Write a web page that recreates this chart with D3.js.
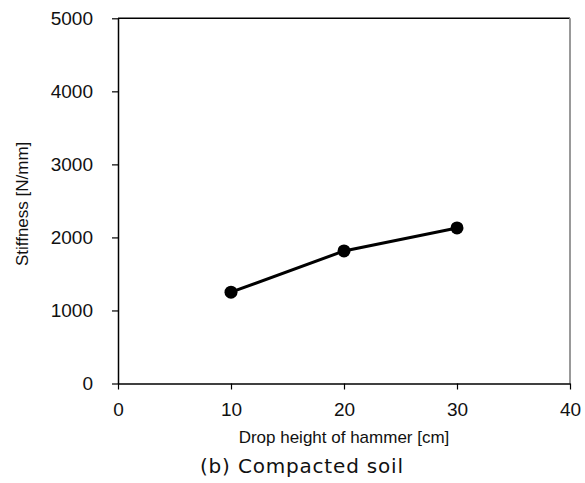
<!DOCTYPE html>
<html><head><meta charset="utf-8">
<script src="https://cdn.jsdelivr.net/npm/d3@7"></script>
<style>
html,body{margin:0;padding:0;background:#fff;}
svg{display:block;}
</style></head>
<body>
<svg id="chart" width="585" height="483"></svg>
<script>
const dropHeights = [10, 20, 30];
const stiffness = [1250, 1815, 2130];
const xTicks = [0, 10, 20, 30, 40];
const yTicks = [0, 1000, 2000, 3000, 4000, 5000];
const xTitle = "Drop height of hammer [cm]";
const yTitle = "Stiffness [N/mm]";
const caption = "(b)  Compacted  soil";

const svg = d3.select("#chart");
const m = {left:118, right:570, top:18.3, bottom:383.5};
const x = d3.scaleLinear().domain([0,40]).range([m.left, m.right]);
const y = d3.scaleLinear().domain([0,5000]).range([m.bottom, m.top]);

// frame top and right
svg.append("line").attr("x1", m.left).attr("x2", m.right).attr("y1", m.top).attr("y2", m.top)
  .attr("stroke","#000").attr("stroke-width",1.5);
svg.append("line").attr("x1", m.right).attr("x2", m.right).attr("y1", m.top).attr("y2", m.bottom)
  .attr("stroke","#999").attr("stroke-width",2);

const font = "'Liberation Sans', Arial, sans-serif";

const gx = svg.append("g").attr("transform",`translate(0,${m.bottom})`)
  .call(d3.axisBottom(x).tickValues(xTicks).tickFormat(d3.format("d")).tickSize(6).tickSizeOuter(0).tickPadding(13));
const gy = svg.append("g").attr("transform",`translate(${m.left},0)`)
  .call(d3.axisLeft(y).tickValues(yTicks).tickFormat(d3.format("d")).tickSize(6).tickSizeOuter(0).tickPadding(19));
[gx, gy].forEach(g => {
  g.selectAll("path.domain").attr("stroke","#000").attr("stroke-width",1.5);
  g.selectAll(".tick line").attr("stroke","#000").attr("stroke-width",1.2);
  g.selectAll("text").attr("font-family", font).attr("font-size", 19).attr("fill","#111");
});

const line = d3.line().x((d,i)=>x(dropHeights[i])).y(d=>y(d));
svg.append("path").datum(stiffness).attr("d", line)
  .attr("fill","none").attr("stroke","#000").attr("stroke-width",3);
svg.selectAll("circle.pt").data(stiffness).enter().append("circle")
  .attr("class","pt").attr("cx",(d,i)=>x(dropHeights[i])).attr("cy",d=>y(d)).attr("r",6.5).attr("fill","#000");

svg.append("text").attr("x",(m.left+m.right)/2).attr("y",443)
  .attr("text-anchor","middle").attr("font-family",font).attr("font-size",17).attr("fill","#111").text(xTitle);
svg.append("text").attr("transform",`translate(27.5,${(m.top+m.bottom)/2+3}) rotate(-90)`)
  .attr("text-anchor","middle").attr("font-family",font).attr("font-size",17).attr("fill","#111").text(yTitle);
svg.append("text").attr("x",200).attr("y",473)
  .attr("font-family","'DejaVu Sans', sans-serif").attr("font-size",20).attr("fill","#111")
  .attr("textLength",203).attr("lengthAdjust","spacing").text(caption);
</script>
</body></html>
